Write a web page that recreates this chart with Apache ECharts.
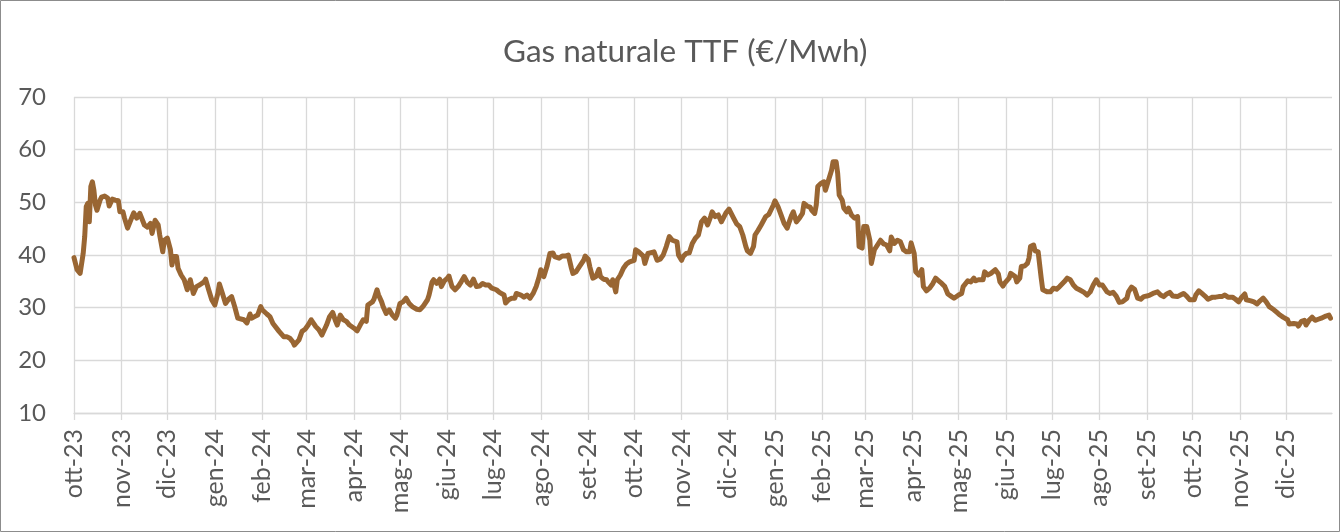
<!DOCTYPE html>
<html>
<head>
<meta charset="utf-8">
<title>Gas naturale TTF</title>
<script src="https://cdn.jsdelivr.net/npm/echarts@6.0.0/dist/echarts.min.js"></script>
<style>
  html, body { margin: 0; padding: 0; background: #fff; }
  #chart { width: 1340px; height: 532px; }
</style>
</head>
<body>
<div id="chart"></div>
<script>
// giorni dal 1 ottobre 2023
const days = [
  0,1,2,4,6,7,8,9,10,11,12,13,14,15,17,18,20,22,23,25,27,29,30,32,33,35,38,39,41,43,
  46,48,50,51,53,55,56,58,59,61,63,64,65,67,68,70,72,74,75,76,78,80,82,85,86,88,90,92,94,95,
  97,99,101,103,105,107,108,111,113,115,116,118,120,122,123,126,128,130,134,137,
  139,141,143,144,147,149,151,153,155,158,160,162,163,165,167,169,171,172,174,176,
  178,180,183,185,187,189,191,192,195,196,198,199,201,202,204,206,208,210,211,213,
  215,217,219,221,224,226,228,231,232,234,235,237,239,240,242,244,245,247,249,251,
  253,255,257,259,261,263,265,267,269,271,273,
  274,276,278,281,282,284,286,288,289,292,294,296,298,300,302,304,305,307,308,309,
  311,313,314,317,319,321,323,325,326,328,330,333,334,336,337,339,341,343,344,346,
  348,349,351,352,354,355,357,359,361,363,366,367,369,370,372,373,375,376,379,381,
  383,385,387,389,391,394,395,397,398,400,402,404,406,408,410,
  412,414,416,417,419,421,423,426,428,429,431,433,435,437,439,440,442,444,445,447,
  449,452,454,455,457,458,460,462,464,466,467,469,470,472,474,476,477,479,481,482,
  484,485,486,488,490,491,493,495,496,498,499,500,502,503,505,506,508,510,512,513,
  515,516,518,520,521,523,525,527,529,531,533,534,536,538,540,542,544,546,547,
  549,550,552,554,555,557,559,561,563,565,567,569,571,573,575,578,580,581,584,586,
  588,589,591,594,595,597,599,602,604,605,607,608,611,612,615,616,618,619,621,623,
  624,625,627,628,630,631,632,633,636,638,640,642,644,647,649,651,653,655,657,660,
  662,664,666,668,670,672,673,675,677,
  679,681,683,685,688,689,691,693,695,697,699,701,703,705,708,710,712,714,716,718,
  721,723,725,727,729,732,733,735,737,739,741,744,746,748,750,752,754,757,759,761,
  763,765,766,769,771,773,775,777,779,781,784,786,788,790,793,794,797,799,800,802,
  804,805,807,809,811,813,815,818,820,821
];

const prices = [
  39.5,39.4,37.2,36.5,40.3,43.5,49.2,49.8,46.3,53.0,53.9,52.3,49.5,48.5,50.4,51.0,51.2,50.8,49.3,50.6,
  50.4,50.3,48.2,48.2,47.0,45.1,47.3,48.0,47.0,47.9,45.7,45.3,46.0,44.1,46.6,45.7,43.8,40.6,42.8,43.2,
  41.0,38.1,39.7,39.7,37.5,36.2,35.3,33.4,34.3,35.3,32.7,34.0,34.3,34.9,35.4,33.4,31.5,30.5,32.7,34.5,
  32.7,30.8,31.6,32.1,30.2,28.0,28.3,27.7,27.1,28.8,28.0,28.3,28.6,30.2,29.6,28.8,28.3,27.0,25.5,24.5,
  24.5,24.2,23.5,22.9,23.9,25.5,25.9,26.7,27.7,26.4,25.8,24.8,25.0,26.7,28.3,29.1,27.4,26.7,28.6,27.7,
  27.4,26.7,26.1,25.6,26.7,27.7,27.4,30.5,31.1,31.6,33.4,32.4,31.1,30.2,28.9,29.6,28.6,28.0,28.6,30.8,
  31.1,31.8,30.8,30.2,29.7,29.6,30.2,31.5,32.4,34.9,35.3,34.6,35.4,34.0,35.1,35.6,36.0,34.0,33.4,34.0,
  34.9,35.9,34.8,34.3,35.4,34.0,34.1,34.6,34.3,34.3,33.7,
  33.9,33.4,32.9,32.4,30.9,31.5,31.8,31.8,32.7,32.4,32.0,32.4,31.8,32.7,34.0,35.9,37.2,35.9,35.6,37.8,
  40.3,40.4,39.7,39.4,39.8,39.8,40.0,37.5,36.5,36.8,37.7,39.0,39.8,39.2,37.8,35.6,35.9,37.3,35.9,35.4,
  35.3,34.9,34.3,35.3,33.0,35.3,36.2,37.5,38.3,38.7,39.0,41.0,40.6,40.3,39.8,38.4,40.3,40.0,40.6,39.0,
  39.2,40.0,41.6,43.5,42.8,42.5,40.0,39.0,39.7,40.3,40.4,42.2,43.2,43.8,46.3,
  47.0,45.7,47.3,48.2,47.3,47.6,46.3,48.0,48.7,48.4,47.0,45.9,45.4,43.8,41.6,40.8,40.3,41.6,43.8,44.7,
  45.7,47.3,47.7,47.9,49.5,50.3,49.2,47.6,46.0,45.1,46.0,47.6,48.2,46.3,47.0,47.9,49.8,49.3,49.1,48.5,
  47.9,49.5,53.0,53.6,53.9,52.3,54.2,56.1,57.7,57.7,55.5,51.4,50.4,48.9,48.2,48.9,47.6,47.0,47.3,41.6,
  41.3,45.4,45.4,42.8,38.4,41.0,41.9,42.8,42.1,41.9,40.8,43.4,42.2,42.8,42.5,41.0,40.6,40.6,42.3,
  40.3,36.8,36.2,37.2,34.0,33.2,33.7,34.5,35.6,35.1,34.6,34.0,32.6,32.2,31.8,32.4,32.7,34.0,35.1,34.9,
  35.6,35.1,35.3,35.3,36.8,36.2,36.5,37.2,36.4,34.9,34.1,34.6,35.6,36.5,35.9,34.9,35.6,37.8,37.9,38.4,
  39.4,41.6,41.9,40.8,40.6,40.3,35.6,33.4,33.0,33.0,33.7,33.5,34.0,34.9,35.6,35.3,34.3,33.7,33.4,32.9,
  32.4,33.0,34.3,35.3,34.3,34.3,34.6,33.0,32.7,
  32.9,32.2,31.0,31.1,31.8,33.0,33.9,33.5,31.8,31.6,32.1,32.2,32.4,32.7,33.0,32.4,32.1,32.6,32.9,32.2,
  32.1,32.4,32.7,32.2,31.5,31.5,32.4,33.2,32.7,32.2,31.6,32.0,32.0,32.1,32.1,32.4,32.0,32.0,31.6,31.1,
  32.0,32.6,31.5,31.3,31.1,30.7,31.3,31.8,31.1,30.2,29.6,29.1,28.6,28.2,27.7,26.9,27.0,26.9,26.5,27.4,
  27.6,26.7,27.6,28.2,27.6,27.8,28.0,28.4,28.6,28.0
];

const monthLabels = [
  'ott-23','nov-23','dic-23','gen-24','feb-24','mar-24','apr-24','mag-24','giu-24',
  'lug-24','ago-24','set-24','ott-24','nov-24','dic-24','gen-25','feb-25','mar-25',
  'apr-25','mag-25','giu-25','lug-25','ago-25','set-25','ott-25','nov-25','dic-25'
];

const yTicks = [10, 20, 30, 40, 50, 60, 70];

// asse giornaliero: 1 ott 2023 - 31 dic 2025
const start = Date.UTC(2023, 9, 1);
const end = Date.UTC(2025, 11, 31);
const DAY = 86400000;
const categories = [];
const monthIndex = {};
let k = 0;
for (let t = start; t <= end; t += DAY) {
  const i = categories.length;
  categories.push(i);
  if (new Date(t).getUTCDate() === 1) {
    monthIndex[i] = k++;
  }
}
const isMonth = (idx) => monthIndex[idx] !== undefined;

const seriesData = days.map((d, i) => [d, prices[i]]);

const option = {
  animation: false,
  backgroundColor: '#ffffff',
  textStyle: { fontFamily: 'Lato, "Open Sans", sans-serif' },
  title: {
    text: 'Gas naturale TTF (€/Mwh)',
    left: 498,
    top: 31,
    textStyle: {
      fontFamily: 'Lato, "Open Sans", sans-serif',
      fontSize: 31.5,
      fontWeight: 'normal',
      color: '#595959'
    }
  },
  graphic: [{
    type: 'rect',
    shape: { x: 0.5, y: 0.5, width: 1339, height: 531 },
    style: { fill: 'none', stroke: '#8c8c8c', lineWidth: 1 },
    silent: true
  }],
  grid: { left: 74, right: 8, top: 97, bottom: 119 },
  xAxis: {
    type: 'category',
    data: categories,
    boundaryGap: false,
    axisLine: { show: true, lineStyle: { color: '#d9d9d9', width: 1.3 } },
    axisTick: {
      show: true,
      length: 7,
      interval: (idx) => isMonth(idx),
      lineStyle: { color: '#d9d9d9', width: 1.3 }
    },
    splitLine: {
      show: true,
      interval: (idx) => isMonth(idx),
      lineStyle: { color: '#d9d9d9', width: 1.3 }
    },
    axisLabel: {
      interval: (idx) => isMonth(idx),
      rotate: 90,
      margin: 16,
      fontSize: 25,
      color: '#595959',
      formatter: (val, idx) => isMonth(idx) ? monthLabels[monthIndex[idx]] : ''
    }
  },
  yAxis: {
    type: 'value',
    min: yTicks[0],
    max: yTicks[yTicks.length - 1],
    interval: 10,
    axisLine: { show: false },
    axisTick: { show: false },
    splitLine: { lineStyle: { color: '#d9d9d9', width: 1.3 } },
    axisLabel: { fontSize: 24, color: '#595959', margin: 28 }
  },
  series: [{
    name: 'TTF',
    type: 'line',
    data: seriesData,
    showSymbol: false,
    symbol: 'none',
    lineStyle: { color: '#996633', width: 5, join: 'round', cap: 'round' },
    itemStyle: { color: '#996633' }
  }]
};

const myChart = echarts.init(document.getElementById('chart'));
myChart.setOption(option);

window.onresize = function () {
  myChart.resize();
};
</script>
</body>
</html>
